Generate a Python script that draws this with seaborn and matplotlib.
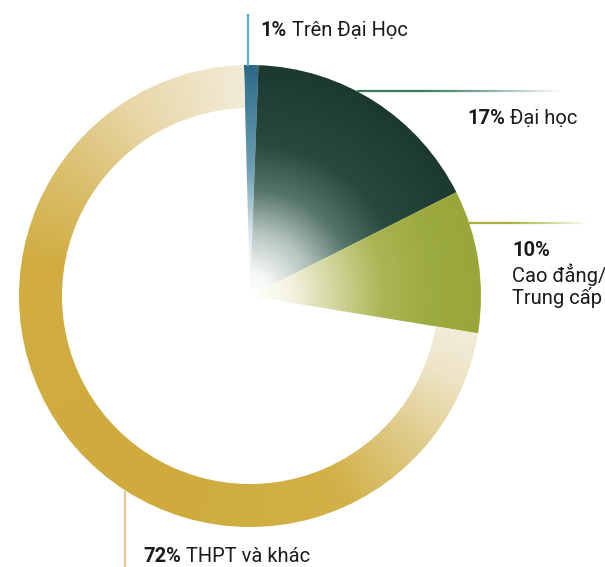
import numpy as np
import matplotlib
matplotlib.use("Agg")
import matplotlib.pyplot as plt
import seaborn as sns
from matplotlib.colors import to_rgb
from matplotlib.collections import LineCollection

# Education level shares (%)
categories = ["Trên Đại Học", "Đại học", "Cao đẳng/\nTrung cấp", "THPT và khác"]
shares = [1, 17, 10, 72]
pct_labels = ["1%", "17%", "10%", "72%"]

sns.set_theme(style="white")
plt.rcParams["font.family"] = ["Roboto", "DejaVu Sans"]

W, H = 605, 567
fig = plt.figure(figsize=(W / 100, H / 100), dpi=100)
ax = fig.add_axes([0, 0, 1, 1])

CX, CY, R = 250, H - 296, 231
RING = 43

wedges, _ = ax.pie(shares, startangle=91.5, counterclock=False,
                   center=(CX, CY), radius=R,
                   wedgeprops=dict(linewidth=0))
ax.set_xlim(0, W)
ax.set_ylim(0, H)
ax.set_aspect("equal")
ax.axis("off")

# last slice is shown as a ring
wedges[3].set_width(RING)
for w in wedges:
    w.set_facecolor("none")

# pixel grid for the gradient fills
xs = np.arange(W) + 0.5
ys = np.arange(H) + 0.5
X, Y = np.meshgrid(xs, ys)
DX, DY = X - CX, Y - CY
RAD = np.hypot(DX, DY) / R
ANG = np.degrees(np.arctan2(DX, DY)) % 360


def ramp(t, stops):
    pos = [p for p, _ in stops]
    cols = np.array([to_rgb(c) for _, c in stops])
    out = np.stack([np.interp(t, pos, cols[:, k]) for k in range(3)], axis=-1)
    return out


radial_stops = {
    0: [(0, "#ffffff"), (0.25, "#e2ecf0"), (0.55, "#6d9fb4"), (1, "#2c6a88")],
    1: [(0, "#ffffff"), (0.1, "#f6f8f7"), (0.28, "#b3c3bd"), (0.46, "#56756a"),
        (0.66, "#29493e"), (1, "#1c3930")],
    2: [(0, "#ffffff"), (0.18, "#f4f3e2"), (0.38, "#d0d498"), (0.58, "#aab654"),
        (0.8, "#9cab3f"), (1, "#98a63a")],
}
ring_stops = [(99, "#f2ecd9"), (112, "#eee4c6"), (130, "#e0cd8e"),
              (155, "#d2b148"), (200, "#cfab3d"), (280, "#d1ad42"),
              (305, "#dbc070"), (330, "#e9d8aa"), (361, "#f3eddc")]

for i, w in enumerate(wedges):
    if i == 3:
        rgb = ramp(ANG, ring_stops)
    else:
        rgb = ramp(RAD, radial_stops[i])
    im = ax.imshow(rgb, extent=(0, W, 0, H), origin="lower",
                   interpolation="bilinear", zorder=1)
    im.set_clip_path(w)

ax.set_xlim(0, W)
ax.set_ylim(0, H)


def fade_line(x0, y0, x1, y1, color, lw=1.6, fade=True, n=60):
    t = np.linspace(0, 1, n + 1)
    px = x0 + (x1 - x0) * t
    py = y0 + (y1 - y0) * t
    segs = [[(px[k], py[k]), (px[k + 1], py[k + 1])] for k in range(n)]
    r, g, b = to_rgb(color)
    if fade:
        alphas = np.clip(1.25 - 1.25 * t[:-1] ** 1.4, 0, 1)
    else:
        alphas = np.ones(n)
    cols = [(r, g, b, a) for a in alphas]
    ax.add_collection(LineCollection(segs, colors=cols, linewidths=lw,
                                     capstyle="butt", zorder=2))


# leader lines (image pixel rows converted to data y)
fade_line(248, H - 14, 248, H - 66, "#5aaed0", fade=False)
fade_line(357, H - 91, 560, H - 91, "#3d7a5a")
fade_line(468, H - 223, 588, H - 223, "#a6b03a")
fade_line(125, H - 491, 125, H - 567, "#e2c999", fade=False)

FS = 14.5
TXT = "#1b1b1b"


def label(x, y_img, pct, name):
    t = ax.text(x, H - y_img, pct, fontsize=FS, fontweight="bold",
                color=TXT, ha="left", va="baseline", zorder=3)
    ax.annotate(name, xy=(1, 0), xycoords=t, xytext=(3.8, 0),
                textcoords="offset points", ha="left", va="bottom",
                fontsize=FS, color=TXT, zorder=3)


label(260, 36, pct_labels[0], categories[0])
label(467, 124, pct_labels[1], categories[1])
label(143, 562, pct_labels[3], categories[3])

# stacked label for the third slice
ax.text(512, H - 256, pct_labels[2], fontsize=FS, fontweight="bold",
        color=TXT, ha="left", va="baseline", zorder=3)
for k, line in enumerate(categories[2].split("\n")):
    ax.text(512, H - (282 + 22 * k), line, fontsize=FS, color=TXT,
            ha="left", va="baseline", zorder=3)

fig.savefig("out.png", dpi=100, facecolor="white")
